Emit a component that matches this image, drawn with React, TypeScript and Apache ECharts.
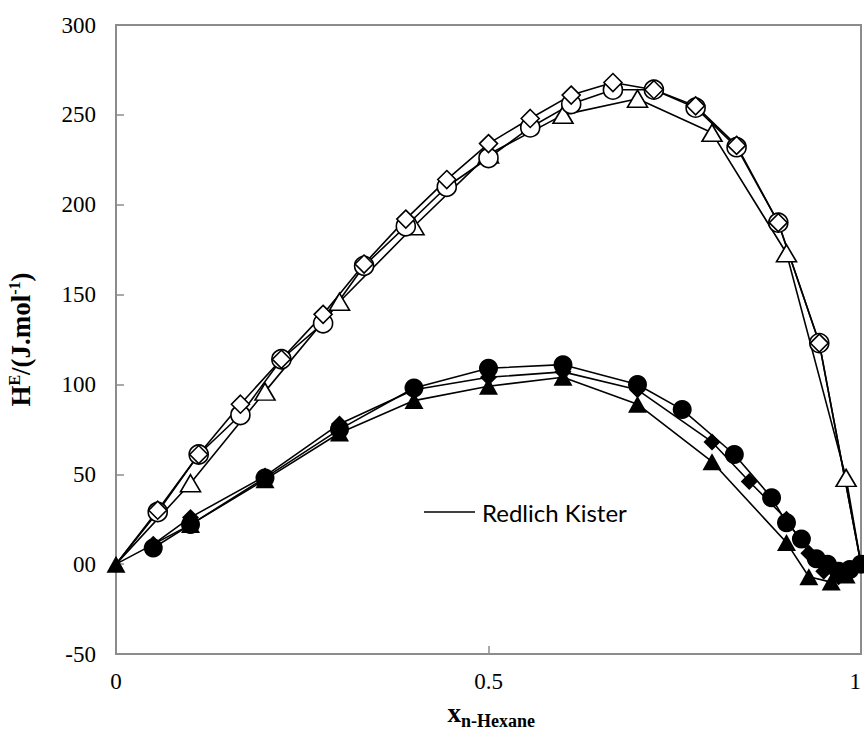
import React, { useEffect, useRef } from "react";
import * as echarts from "echarts";

const xTicks = [0, 0.5, 1];
const yTickLabels: Record<string, string> = { "0": "00" };

// Open markers (upper group); end points (x = 0 and x = 1) carry the line only
const openDiamonds: number[][] = [
  [0, 0], [0.056, 30], [0.111, 61], [0.167, 89], [0.222, 114], [0.278, 139], [0.333, 167],
  [0.389, 192], [0.444, 214], [0.5, 234], [0.556, 248], [0.611, 261], [0.667, 268],
  [0.722, 264], [0.778, 255], [0.833, 233], [0.889, 190], [0.944, 123], [1, 0],
];
const openCircles: number[][] = [
  [0, 0], [0.056, 29], [0.111, 61], [0.167, 83], [0.222, 114], [0.278, 134], [0.333, 166],
  [0.389, 188], [0.444, 210], [0.5, 226], [0.556, 243], [0.611, 256], [0.667, 264],
  [0.722, 264], [0.778, 254], [0.833, 232], [0.889, 190], [0.944, 123], [1, 0],
];
const openTriangles: number[][] = [
  [0, 0], [0.1, 45], [0.2, 96], [0.3, 146], [0.4, 188], [0.5, 228], [0.6, 250],
  [0.7, 259], [0.8, 240], [0.9, 173], [0.98, 48], [1, 0],
];

// Filled markers (lower group)
const filledCircles: number[][] = [
  [0.05, 9], [0.1, 22], [0.2, 48], [0.3, 75], [0.4, 98], [0.5, 109], [0.6, 111],
  [0.7, 100], [0.76, 86], [0.83, 61], [0.88, 37], [0.9, 23], [0.92, 14], [0.94, 3],
  [0.955, 0], [0.97, -4], [0.985, -3], [1, 0],
];
const filledDiamonds: number[][] = [
  [0.05, 11], [0.1, 26], [0.2, 49], [0.3, 78], [0.4, 97], [0.5, 104], [0.6, 107],
  [0.7, 97], [0.8, 68], [0.85, 46], [0.9, 25], [0.93, 6], [0.95, -4], [0.97, -7], [1, 0],
];
const filledTriangles: number[][] = [
  [0, 0], [0.1, 22], [0.2, 47], [0.3, 73], [0.4, 91], [0.5, 99], [0.6, 104],
  [0.7, 89], [0.8, 57], [0.9, 12], [0.93, -7], [0.96, -10], [0.98, -6], [1, 0],
];

const legendLabel = "Redlich Kister";
const xTitleMain = "x";
const xTitleSub = "n-Hexane";

const SERIF = "Liberation Serif";

function mk(name: string, data: number[][], symbol: string, size: number | number[], filled: boolean) {
  const items = data.map((d) =>
    !filled && (d[0] === 0 || d[0] === 1) ? { value: d, symbol: "none" } : { value: d }
  );
  return {
    name,
    type: "line",
    data: items,
    symbol,
    symbolSize: size,
    showAllSymbol: true,
    lineStyle: { color: "#000", width: 1.6 },
    itemStyle: filled
      ? { color: "#000", borderColor: "#000", borderWidth: 0 }
      : { color: "#fff", borderColor: "#000", borderWidth: 1.6, opacity: 1 },
    emphasis: { disabled: true },
    z: 2,
  };
}

export default function App() {
  const ref = useRef<HTMLDivElement>(null);
  useEffect(() => {
    if (!ref.current) return;
    const chart = echarts.init(ref.current, undefined, { renderer: "svg" });
    chart.setOption({
      animation: false,
      backgroundColor: "#fff",
      textStyle: { fontFamily: SERIF },
      grid: {
        left: 116, right: 3, top: 25, bottom: 77,
        outerBoundsMode: "none",
        containLabel: false,
        show: true, borderColor: "#8c8c8c", borderWidth: 2,
      },
      xAxis: {
        type: "value",
        min: 0, max: 1, interval: 0.5,
        axisLine: { show: true, onZero: false, lineStyle: { color: "#8c8c8c", width: 2 } },
        axisTick: { show: true, inside: true, length: 8, lineStyle: { color: "#8c8c8c", width: 1.5 } },
        splitLine: { show: false },
        axisLabel: {
          margin: 16,
          alignMaxLabel: "right",
          fontFamily: SERIF, fontSize: 23, color: "#000",
          formatter: (v: number) => (xTicks.includes(v) ? String(v) : ""),
        },
      },
      yAxis: {
        type: "value",
        min: -50, max: 300, interval: 50,
        axisLine: { show: true, onZero: false, lineStyle: { color: "#8c8c8c", width: 2 } },
        axisTick: { show: true, inside: true, length: 8, lineStyle: { color: "#8c8c8c", width: 1.5 } },
        splitLine: { show: false },
        axisLabel: {
          margin: 20,
          fontFamily: SERIF, fontSize: 23, color: "#000",
          formatter: (v: number) => yTickLabels[String(v)] ?? String(v),
        },
        name: "{b|H}{sup|E}{b|/(J.mol}{sup|-1}{b|)}",
        nameLocation: "middle",
        nameGap: 82,
        nameTextStyle: {
          rich: {
            b: { fontFamily: SERIF, fontSize: 27, fontWeight: "bold", color: "#000", lineHeight: 28, verticalAlign: "bottom" },
            sup: { fontFamily: SERIF, fontSize: 16, fontWeight: "bold", color: "#000", lineHeight: 28, verticalAlign: "top" },
          },
        },
      },
      series: [
        mk("fit-tri-open", openTriangles, "triangle", [20, 17], false),
        mk("fit-circ-open", openCircles, "circle", 19, false),
        mk("fit-dia-open", openDiamonds, "diamond", 18, false),
        mk("fit-tri-fill", filledTriangles, "triangle", [19, 17], true),
        mk("fit-dia-fill", filledDiamonds, "diamond", 17, true),
        mk("fit-circ-fill", filledCircles, "circle", 19, true),
      ],
      graphic: [
        { type: "line", shape: { x1: 424, y1: 512, x2: 475, y2: 512 }, style: { stroke: "#000", lineWidth: 1.6 } },
        {
          type: "text", x: 482, y: 512,
          style: { text: legendLabel, fontFamily: "Lato", fontSize: 24, fill: "#000", verticalAlign: "middle", align: "left" },
        },
        {
          type: "text", x: 461, y: 713,
          style: { text: xTitleMain, fontFamily: SERIF, fontSize: 27, fontWeight: "bold", fill: "#000", verticalAlign: "middle", align: "right" },
        },
        {
          type: "text", x: 461, y: 721,
          style: { text: xTitleSub, fontFamily: SERIF, fontSize: 18, fontWeight: "bold", fill: "#000", verticalAlign: "middle", align: "left" },
        },
      ],
    });
    return () => chart.dispose();
  }, []);
  return <div ref={ref} style={{ width: 864, height: 731, position: "absolute", left: 0, top: 0 }} />;
}
